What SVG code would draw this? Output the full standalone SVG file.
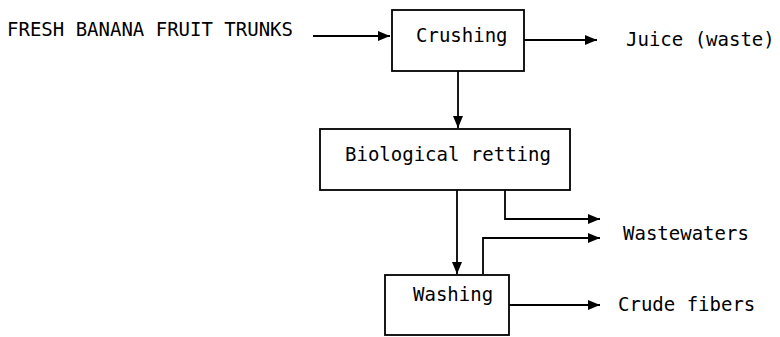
<svg xmlns="http://www.w3.org/2000/svg" width="780" height="337" viewBox="0 0 780 337">
  <style>
    .box { fill: #fff; stroke: #000; stroke-width: 1.8; }
    .lbl { font-family: "DejaVu Sans Mono", "Liberation Mono", monospace; font-size: 19px; fill: #000; }
    .flow { fill: none; stroke: #000; stroke-width: 1.8; marker-end: url(#head); }
  </style>
  <defs>
    <marker id="head" viewBox="0 0 12 10" refX="12" refY="5" markerWidth="12" markerHeight="10" markerUnits="userSpaceOnUse" orient="auto">
      <path d="M0,0 L12,5 L0,10 Z" fill="#000"/>
    </marker>
  </defs>
  <rect width="780" height="337" fill="#fff"/>

  <g id="input">
    <text class="lbl" x="7" y="36">FRESH BANANA FRUIT TRUNKS</text>
  </g>

  <g id="crushing">
    <rect class="box" x="392" y="10" width="132" height="61"/>
    <text class="lbl" x="416" y="42">Crushing</text>
  </g>

  <g id="juice">
    <text class="lbl" x="626" y="46">Juice (waste)</text>
  </g>

  <g id="retting">
    <rect class="box" x="320" y="129" width="250" height="61"/>
    <text class="lbl" x="345" y="161">Biological retting</text>
  </g>

  <g id="wastewaters">
    <text class="lbl" x="623" y="240">Wastewaters</text>
  </g>

  <g id="washing">
    <rect class="box" x="385" y="275" width="124" height="60"/>
    <text class="lbl" x="413" y="301">Washing</text>
  </g>

  <g id="fibers">
    <text class="lbl" x="618" y="311">Crude fibers</text>
  </g>

  <g id="connectors">
    <path class="flow" d="M313,36 H390"/>
    <path class="flow" d="M524,40 H597"/>
    <path class="flow" d="M458,71 V128"/>
    <path class="flow" d="M457,190 V274"/>
    <path class="flow" d="M505,190 V219 H600"/>
    <path class="flow" d="M483,274 V238 H600"/>
    <path class="flow" d="M509,305 H600"/>
  </g>
</svg>
